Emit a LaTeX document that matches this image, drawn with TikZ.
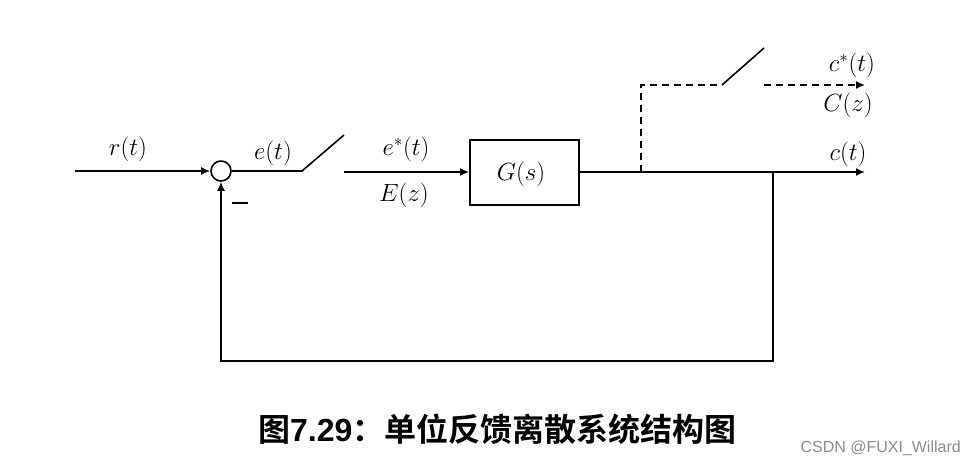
\documentclass[tikz,border=0pt]{standalone}
\usepackage{amsmath}
\usepackage{fontspec}
\newfontfamily\cjkbold[BoldFont=Noto Sans CJK SC Bold]{Noto Sans CJK SC}
\newfontfamily\arialfont[BoldFont=Liberation Sans Bold]{Liberation Sans}
\usetikzlibrary{arrows.meta}
\tikzset{>={Latex[length=9,width=8]}}
\colorlet{mygrey}{black!45}
\tikzstyle{signal}=[black,line width=1.6]
\tikzstyle{sampled}=[black,line width=1.6,dash pattern=on 7pt off 5pt]
\tikzstyle{blockbox}=[draw=black,line width=1.8,minimum width=109,minimum height=65,inner sep=0]
\tikzstyle{sumcircle}=[draw=black,circle,line width=1.6,minimum size=20,inner sep=0]
\tikzstyle{varlabel}=[inner sep=0,font=\fontsize{24}{26}\selectfont]

\begin{document}
\begin{tikzpicture}[x=1pt,y=-1pt]
  \useasboundingbox (0,0) rectangle (975,466);
  
  % NODES
  \node[sumcircle] (sum) at (221,171) {};
  \node[blockbox] (plant) at (524.5,172.5) {};
  
  % POINTS
  \coordinate (in)   at ( 75,171); % input
  \coordinate (swa)  at (302,171); % first switch, fixed end
  \coordinate (swb)  at (344,135); % first switch, free end
  \coordinate (swc)  at (344,172); % first switch, output
  \coordinate (tap)  at (641,172); % branch to sampled output
  \coordinate (tapt) at (641,85);
  \coordinate (swd)  at (722,85);  % second switch, fixed end
  \coordinate (swe)  at (764,48);  % second switch, free end
  \coordinate (swf)  at (764,85);  % second switch, output
  \coordinate (outs) at (865,85);  % sampled output
  \coordinate (outb) at (579,172); % box exit
  \coordinate (out)  at (865,172); % output
  \coordinate (fb)   at (773,172); % feedback branch
  \coordinate (fbr)  at (773,361);
  \coordinate (fbl)  at (221,361);
  \coordinate (mina) at (232,203); % minus sign
  \coordinate (minb) at (248,203);
  
  % FORWARD PATH
  \draw[signal,->] (in) -- (sum);
  \draw[signal] (sum) -- (swa) -- (swb);
  \draw[signal,->] (swc) -- (plant.west |- swc);
  \draw[signal,->] (outb) -- (out);
  
  % SAMPLED OUTPUT
  \draw[sampled] (tap) -- (tapt) -- (swd);
  \draw[signal] (swd) -- (swe);
  \draw[sampled,->] (swf) -- (outs);
  
  % FEEDBACK
  \draw[signal,->] (fb) -- (fbr) -- (fbl) -- (sum);
  \draw[signal] (mina) -- (minb);
  
  % LABELS
  \node[varlabel] (Gslabel) at (521,174) {$G(s)$};
  \node[varlabel] (rlabel) at (128,149) {$r(t)$};
  \node[varlabel] (elabel) at (273,153) {$e(t)$};
  \node[varlabel] (eslabel) at (406,149) {$e^*(t)$};
  \node[varlabel] (Ezlabel) at (404,195) {$E(z)$};
  \node[varlabel] (cslabel) at (852,65) {$c^*(t)$};
  \node[varlabel] (Czlabel) at (848,105) {$C(z)$};
  \node[varlabel] (clabel) at (848,154) {$c(t)$};
  
  % CAPTION
  \node[inner sep=0,anchor=west,font=\fontsize{32}{36}\selectfont\bfseries] (caption) at (258,429)
    {{\cjkbold 图}{\arialfont 7.29}{\cjkbold ：单位反馈离散系统结构图}};
  \node[inner sep=0,anchor=east,text=mygrey,font=\fontsize{16}{18}\selectfont\arialfont] (mark) at (961,448)
    {CSDN @FUXI\_Willard};
  
\end{tikzpicture}
\end{document}
